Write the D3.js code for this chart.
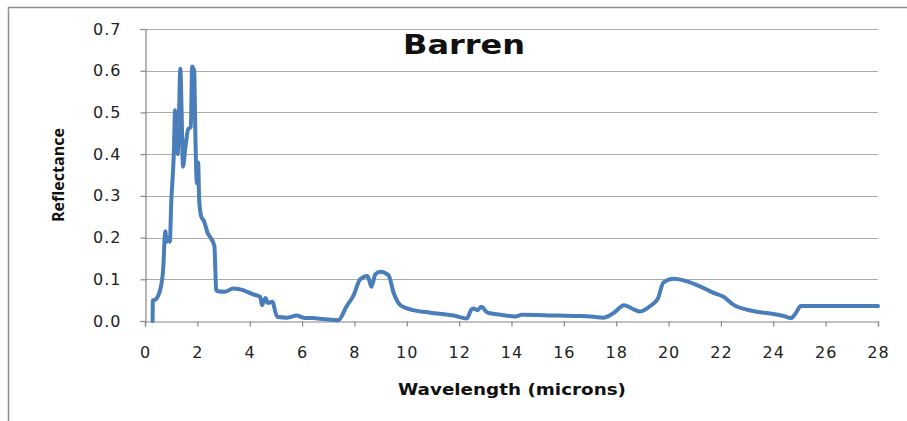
<!DOCTYPE html>
<html>
<head>
<meta charset="utf-8" />
<script src="https://cdn.jsdelivr.net/npm/d3@7"></script>
<style>
  body { margin: 0; background: #fff; }
  svg { display: block; font-family: 'DejaVu Sans', sans-serif; }
  .tick text { fill: #222; }
</style>
</head>
<body>
<svg id="chart" width="907" height="421"></svg>
<script>
// wavelength (microns) and reflectance
const wavelength = [
  0.29, 0.3, 0.35, 0.5, 0.6, 0.7, 0.75, 0.78, 0.82, 0.9, 0.95, 1.0, 1.1, 1.15, 1.2, 1.25,
  1.3, 1.35, 1.4, 1.45, 1.55, 1.65, 1.75, 1.8, 1.88, 1.92, 1.98, 2.03, 2.07, 2.15, 2.25,
  2.4, 2.5, 2.65, 2.72, 2.75, 3.05, 3.37, 3.75, 3.9, 4.13, 4.4, 4.47, 4.6, 4.7, 4.86,
  5.05, 5.43, 5.8, 6.05, 6.4, 6.8, 7.38, 7.7, 7.97, 8.22, 8.5, 8.65, 8.8, 9.0, 9.3, 9.5,
  9.75, 10.25, 10.9, 11.8, 12.3, 12.45, 12.55, 12.7, 12.85, 13.08, 13.58, 14.15, 14.4,
  15.75, 16.6, 17.15, 17.5, 17.9, 18.3, 18.6, 18.9, 19.3, 19.6, 19.8, 20.2, 20.7, 21.2,
  21.7, 22.1, 22.5, 23.0, 23.5, 24.0, 24.4, 24.67, 24.85, 25.05, 28.0
];
const reflectance = [
  0.0, 0.05, 0.05, 0.06, 0.08, 0.13, 0.2, 0.215, 0.19, 0.2, 0.19, 0.28, 0.4, 0.505, 0.45, 0.40,
  0.5, 0.605, 0.5, 0.37, 0.42, 0.46, 0.465, 0.61, 0.6, 0.46, 0.33, 0.38, 0.29, 0.25, 0.24,
  0.21, 0.2, 0.18, 0.075, 0.072, 0.07, 0.078, 0.074, 0.07, 0.064, 0.058, 0.038, 0.055, 0.043, 0.046,
  0.01, 0.008, 0.013, 0.008, 0.007, 0.005, 0.002, 0.035, 0.062, 0.1, 0.108, 0.082, 0.112, 0.118, 0.11, 0.067,
  0.038, 0.026, 0.02, 0.013, 0.006, 0.026, 0.03, 0.026, 0.034, 0.02, 0.015, 0.011, 0.015,
  0.013, 0.012, 0.01, 0.008, 0.019, 0.038, 0.03, 0.023, 0.036, 0.055, 0.092, 0.101, 0.095, 0.083,
  0.068, 0.058, 0.038, 0.027, 0.021, 0.017, 0.012, 0.007, 0.018, 0.036, 0.036
];
const xTicks = [0, 2, 4, 6, 8, 10, 12, 14, 16, 18, 20, 22, 24, 26, 28];
const yTicks = [0, 0.1, 0.2, 0.3, 0.4, 0.5, 0.6, 0.7];

const svg = d3.select('#chart');
const plotLeft = 145, plotRight = 878, plotTop = 29, plotBottom = 321;

const x = d3.scaleLinear().domain([0, 28]).range([plotLeft, plotRight]);
const y = d3.scaleLinear().domain([0, 0.7]).range([plotBottom, plotTop]);

// outer frame (only left and top edges visible)
svg.append('path')
  .attr('d', 'M8.5,421 V7.5 H907')
  .attr('fill', 'none')
  .attr('stroke', '#8e8e8e')
  .attr('stroke-width', 1.5);

// gridlines
svg.append('g')
  .selectAll('line')
  .data(yTicks.slice(1))
  .join('line')
  .attr('x1', plotLeft)
  .attr('x2', plotRight)
  .attr('y1', (d) => Math.round(y(d)) + 0.5)
  .attr('y2', (d) => Math.round(y(d)) + 0.5)
  .attr('stroke', '#ababab')
  .attr('stroke-width', 1.2);

const yAxis = svg.append('g')
  .attr('transform', `translate(${plotLeft + 0.5},0)`)
  .call(d3.axisLeft(y).tickValues(yTicks).tickFormat(d3.format('.1f')).tickSize(5).tickPadding(19));

const xAxis = svg.append('g')
  .attr('transform', `translate(0,${plotBottom + 0.5})`)
  .call(d3.axisBottom(x).tickValues(xTicks).tickSize(5).tickPadding(20));

[xAxis, yAxis].forEach((g) => {
  g.select('.domain').attr('stroke', '#868686').attr('stroke-width', 1.2);
  g.selectAll('.tick line').attr('stroke', '#868686').attr('stroke-width', 1.2);
  g.selectAll('.tick text')
    .attr('font-size', 16)
    .attr('font-family', 'DejaVu Sans, sans-serif')
    .style('letter-spacing', '1px');
});

const pts = wavelength.map((w, i) => [w, reflectance[i]]);
const line = d3.line()
  .curve(d3.curveMonotoneX)
  .x((d) => x(d[0]))
  .y((d) => y(d[1]));

svg.append('path')
  .datum(pts)
  .attr('d', line)
  .attr('fill', 'none')
  .attr('stroke', '#4a7ebb')
  .attr('stroke-width', 4)
  .attr('stroke-linejoin', 'round')
  .attr('stroke-linecap', 'round');

// titles
svg.append('text')
  .attr('x', 464)
  .attr('y', 54)
  .attr('text-anchor', 'middle')
  .attr('font-size', 26)
  .attr('font-weight', 'bold')
  .attr('textLength', 122)
  .attr('lengthAdjust', 'spacingAndGlyphs')
  .attr('fill', '#111')
  .text('Barren');

svg.append('text')
  .attr('x', 512)
  .attr('y', 395)
  .attr('text-anchor', 'middle')
  .attr('font-size', 15)
  .attr('font-weight', 'bold')
  .attr('textLength', 228)
  .attr('lengthAdjust', 'spacingAndGlyphs')
  .attr('fill', '#111')
  .text('Wavelength (microns)');

svg.append('text')
  .attr('transform', 'translate(64,175) rotate(-90)')
  .attr('text-anchor', 'middle')
  .attr('font-size', 16)
  .attr('font-family', 'Open Sans, sans-serif')
  .attr('font-weight', 'bold')
  .attr('textLength', 94)
  .attr('lengthAdjust', 'spacingAndGlyphs')
  .attr('fill', '#111')
  .text('Reflectance');
</script>
</body>
</html>
